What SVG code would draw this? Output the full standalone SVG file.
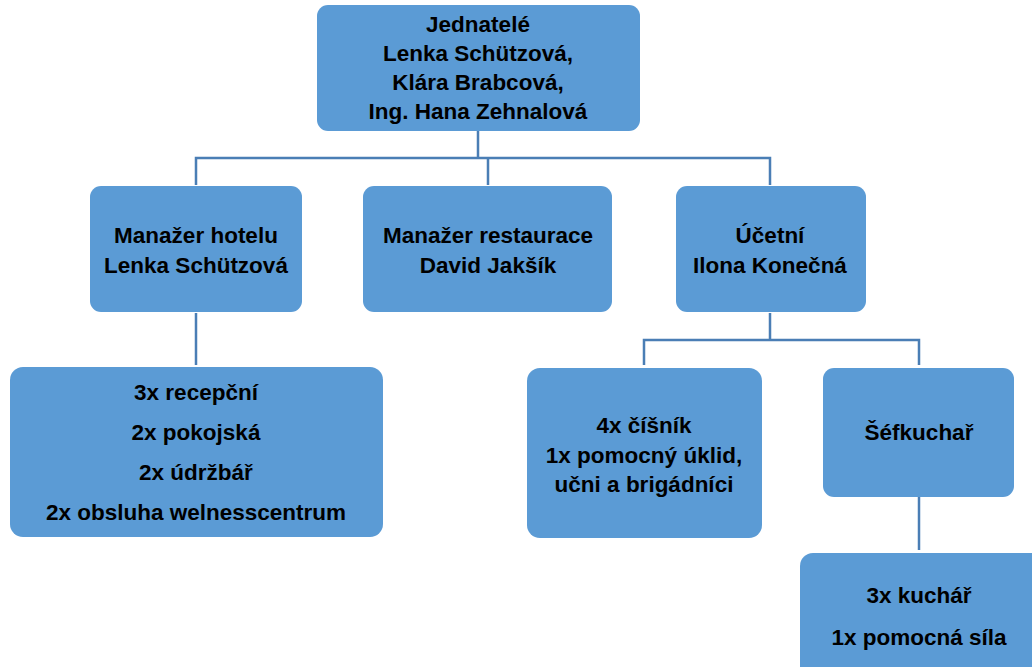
<svg xmlns="http://www.w3.org/2000/svg" width="1032" height="667" viewBox="0 0 1032 667">
<style>
.box{fill:#5B9BD5;}
.t{font-family:"Liberation Sans",Arial,sans-serif;font-weight:bold;font-size:22.5px;fill:#000;text-anchor:middle;}
.c{fill:none;stroke:#4A7EB5;stroke-width:2.5;}
</style>
<rect width="1032" height="667" fill="#fff"/>
<g id="connectors">
<path class="c" d="M478,131 V158 M196,185 V158 H770 V185 M488,158 V185"/>
<path class="c" d="M196,313 V365"/>
<path class="c" d="M770,313 V340 M644,365 V340 H919 V365"/>
<path class="c" d="M919,497 V550"/>
</g>
<g id="n-jednatele">
<rect class="box" x="317" y="5" width="323" height="126" rx="11"/>
<text class="t" x="478" y="32">Jednatelé</text>
<text class="t" x="478" y="61">Lenka Schützová,</text>
<text class="t" x="478" y="90">Klára Brabcová,</text>
<text class="t" x="478" y="119">Ing. Hana Zehnalová</text>
</g>
<g id="n-hotel">
<rect class="box" x="90" y="186" width="212" height="126" rx="11"/>
<text class="t" x="196" y="243">Manažer hotelu</text>
<text class="t" x="196" y="273">Lenka Schützová</text>
</g>
<g id="n-restaurace">
<rect class="box" x="363" y="186" width="249" height="126" rx="11"/>
<text class="t" x="488" y="243">Manažer restaurace</text>
<text class="t" x="488" y="273">David Jakšík</text>
</g>
<g id="n-ucetni">
<rect class="box" x="676" y="186" width="190" height="126" rx="11"/>
<text class="t" x="770" y="243">Účetní</text>
<text class="t" x="770" y="273">Ilona Konečná</text>
</g>
<g id="n-hotel-staff">
<rect class="box" x="10" y="367" width="373" height="170" rx="13"/>
<text class="t" x="196" y="400">3x recepční</text>
<text class="t" x="196" y="440">2x pokojská</text>
<text class="t" x="196" y="480">2x údržbář</text>
<text class="t" x="196" y="520">2x obsluha welnesscentrum</text>
</g>
<g id="n-cisnik">
<rect class="box" x="527" y="368" width="235" height="170" rx="13"/>
<text class="t" x="644" y="433">4x číšník</text>
<text class="t" x="644" y="463">1x pomocný úklid,</text>
<text class="t" x="644" y="492">učni a brigádníci</text>
</g>
<g id="n-sefkuchar">
<rect class="box" x="823" y="368" width="191" height="129" rx="11"/>
<text class="t" x="919" y="440">Šéfkuchař</text>
</g>
<g id="n-kuchar">
<rect class="box" x="800" y="553" width="250" height="140" rx="13"/>
<text class="t" x="919" y="603">3x kuchář</text>
<text class="t" x="919" y="645">1x pomocná síla</text>
</g>
</svg>
